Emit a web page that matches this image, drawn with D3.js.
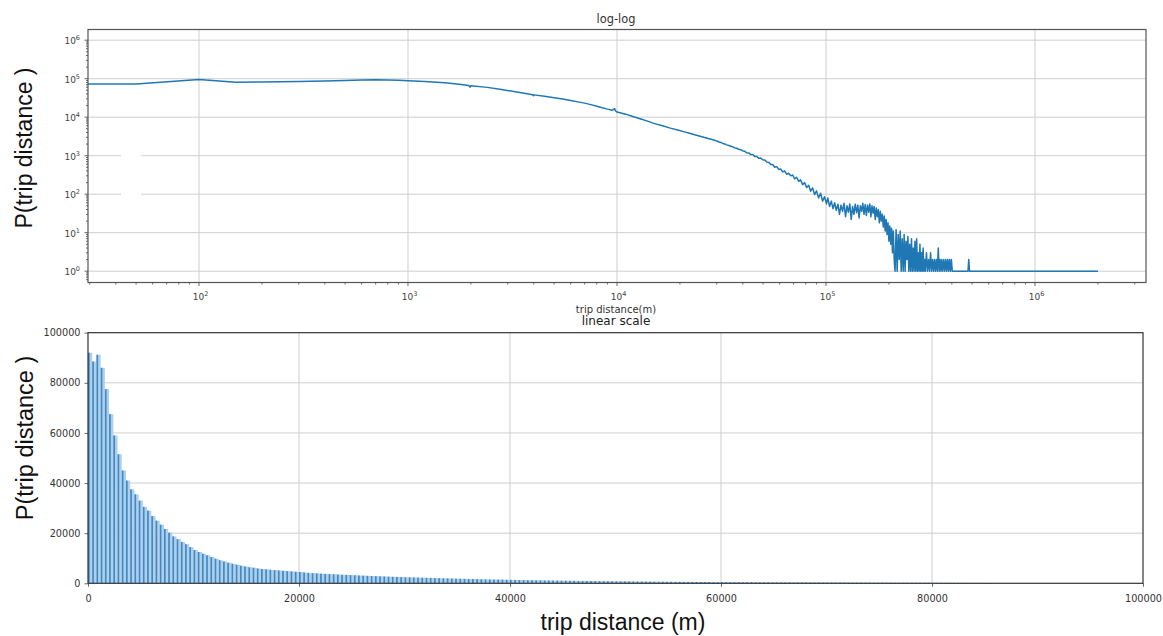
<!DOCTYPE html>
<html>
<head>
<meta charset="utf-8">
<script src="https://cdn.jsdelivr.net/npm/d3@7"></script>
<style>
  html, body { margin: 0; padding: 0; background: #fff; }
  svg { display: block; }
</style>
</head>
<body>
<svg id="chart" width="1163" height="636"></svg>
<script>
// ---------------- DATA ----------------
// log-log panel: trip distance (m) and count per distance bin
const logDist = [
  0, 50, 100, 150, 200, 300, 400, 500, 600, 700, 800, 900, 1000, 1200, 1500, 1800, 1950, 1980, 2000,
  2400, 2800, 3200, 3600, 3950, 3980, 4000, 4500, 5000, 5500, 6000, 6500, 7000, 7500, 8000, 8500,
  9000, 9500, 9750, 9800, 10000, 11000, 12000, 13000, 14000, 15000, 16500, 18000, 19500, 21000,
  22500, 24000, 25500, 27000, 28500,
  30000, 30700, 31400, 32100, 32800, 33500, 34300, 35000, 35800, 36600, 37400, 38200, 39100, 40000,
  40900, 41800, 42700, 43600, 44600, 45600, 46600, 47600, 48700, 49800, 50900, 52000, 53200, 54400,
  55600, 56800, 58100, 59400, 60700, 62000, 63400, 64800, 66300, 67800, 69300, 70800, 72400, 74000,
  75600, 77300, 79000, 80800, 82600, 84400, 86300, 88200, 90100, 92100, 94200, 96300, 98400, 100600,
  102000, 104000, 106000, 108000, 110000, 112000, 114000, 116000, 118000, 120000, 122000, 124000,
  126000, 128000, 130000, 132000, 134000, 136000, 138000, 140000, 142000, 144000, 146000, 148000,
  150000, 152000, 154000, 156000, 158000, 160000, 162000, 164000, 166000, 168000, 170000, 172000,
  174000, 176000, 178000, 180000, 182000, 184000, 186000, 188000, 190000, 192000, 194000, 196000,
  198000, 200000, 202000, 204000, 206000, 208000, 210000, 212000,
  214000, 216500, 219000, 221500, 224000, 226500, 229000, 231500, 234000, 236500, 239000, 241500,
  244000, 246500, 249000, 251500, 254000, 256500, 259000, 261500, 264000, 266500, 269000, 271500,
  274000, 276500, 279000, 281500, 284000, 286500, 289000, 291500, 294000, 296500, 299000,
  302500, 306000, 309500, 313000, 316500, 320000, 323500, 327000, 330500, 334000, 337500, 341000,
  344500, 348000, 351500, 355000, 358500, 362000, 366000, 370000, 374000, 378000, 382000, 386000,
  390000, 394000, 398000, 402000, 440000, 478000, 482000, 486000, 2000000
];
const logCount = [
  72000, 72500, 95000, 81000, 82500, 85000, 87500, 90000, 92000, 93500, 93000, 91000, 88500, 85000,
  79000, 71000, 66500, 60500, 66000,
  59500, 52500, 46500, 42000, 38500, 36000, 38000, 35000, 32000, 29500, 27000, 25000, 23200, 21200,
  19300, 17500, 16200, 15200, 16600, 14900, 13600, 12000, 10300, 9000, 7900, 6900, 6000, 5200, 4650,
  4150, 3750, 3400, 3100, 2850, 2620,
  2420, 2270, 2210, 2080, 2020, 1910, 1850, 1750, 1700, 1590, 1560, 1460, 1430, 1330,
  1300, 1190, 1180, 1070, 1070, 960, 960, 860, 870, 780, 770, 690, 670, 590,
  590, 500, 520, 440, 450, 380, 400, 330, 350, 300, 315, 250, 275, 215,
  235, 175, 200, 148, 170, 120, 145, 98, 122, 80, 106, 66, 86, 56,
  80, 48, 66, 42, 60, 38, 55, 30, 52, 36, 58, 26,
  50, 34, 56, 22, 48, 30, 55, 33, 52, 24, 50, 36,
  58, 30, 54, 28, 52, 34, 56, 26, 50, 32, 48, 22,
  44, 26, 40, 18, 36, 20, 30, 14, 27, 11, 22, 9,
  18, 6, 15, 5, 13, 3, 11, 2,
  1, 12, 1, 9, 2, 11, 1, 7, 1, 9, 1, 6,
  2, 8, 1, 5, 1, 7, 1, 4, 1, 6, 1, 7,
  1, 3, 1, 5, 1, 3, 1, 4, 1, 2, 1,
  3, 1, 2, 1, 3, 1, 2, 1, 2, 1, 2, 1,
  4, 1, 2, 1, 2, 1, 2, 1, 2, 1, 2, 1,
  2, 1, 2, 1, 1, 1, 2, 1, 1
];
const logTicksX = [1e2, 1e3, 1e4, 1e5, 1e6];
const logTicksY = [1e0, 1e1, 1e2, 1e3, 1e4, 1e5, 1e6];

// linear panel: count per distance bin (bin width in metres)
const binWidth = 400;
const linCount = [
  92000, 88500, 91200, 86000, 77500, 67500, 59000, 51500, 45000, 41000, 37500, 35500, 33000,
  30500, 29000, 26800, 25000, 23400, 21700, 20200, 18700, 17600, 16500, 15600, 14400, 13300,
  12500, 11800, 11200, 10500, 9800, 9200, 8700, 8200, 7800, 7400, 7000, 6700, 6400, 6200, 5900,
  5700, 5550, 5400, 5250, 5100, 5000, 4850, 4750, 4600, 4500,
  4300, 4150, 4050, 3950, 3850, 3750, 3650, 3600, 3500, 3400, 3350, 3250, 3200, 3100, 3050,
  2980, 2900, 2850, 2780, 2720, 2650, 2600, 2550, 2480, 2420,
  2380, 2330, 2280, 2230, 2180, 2130, 2080, 2030, 1980, 1940, 1890, 1850, 1810, 1770, 1720,
  1690, 1650, 1610, 1570, 1540, 1500, 1470, 1430, 1400, 1360,
  1330, 1300, 1270, 1250, 1220, 1190, 1170, 1140, 1120, 1090, 1070, 1050, 1020, 1000, 980,
  960, 940, 920, 900, 880, 860, 840, 820, 800, 780,
  765, 750, 735, 720, 705, 690, 675, 660, 645, 630, 615, 600, 590, 575, 565, 550, 540, 525,
  515, 505, 495, 485, 475, 460, 450,
  442, 434, 426, 418, 410, 402, 395, 388, 381, 374, 367, 360, 354, 348, 342, 336, 330, 324,
  318, 312, 306, 300, 295, 290, 285,
  280, 275, 270, 265, 260, 255, 250, 245, 240, 235, 230, 225, 220, 215, 210, 205, 200, 196,
  192, 188, 184, 180, 176, 172, 168,
  165, 162, 158, 155, 152, 148, 145, 142, 138, 135, 132, 128, 125
];
const linTicksX = [0, 20000, 40000, 60000, 80000, 100000];
const linTicksY = [0, 20000, 40000, 60000, 80000, 100000];

// ---------------- DRAW ----------------
const svg = d3.select("#chart");
const tickFont = "'DejaVu Sans', sans-serif";
const labelFont = "'Liberation Sans', Arial, sans-serif";
const gridColor = "#cfcfcf";
const lineColor = "#1f77b4";

// ===== Top panel (log-log) =====
const T = {left: 88, right: 1146, top: 29.5, bottom: 282.5};
const xLog = d3.scaleLog().domain([Math.pow(10, 1.4689), Math.pow(10, 6.5311)]).range([T.left, T.right]);
const yLog = d3.scaleLog().domain([Math.pow(10, -0.294), Math.pow(10, 6.278)]).range([T.bottom, T.top]);

svg.append("clipPath").attr("id", "clipTop").append("rect")
  .attr("x", T.left).attr("y", T.top).attr("width", T.right - T.left).attr("height", T.bottom - T.top);

const gTop = svg.append("g");
gTop.selectAll("line.gx").data(logTicksX).join("line")
  .attr("x1", d => xLog(d)).attr("x2", d => xLog(d))
  .attr("y1", T.top).attr("y2", T.bottom)
  .attr("stroke", gridColor).attr("stroke-width", 1);
gTop.selectAll("line.gy").data(logTicksY).join("line")
  .attr("x1", T.left).attr("x2", T.right)
  .attr("y1", d => yLog(d)).attr("y2", d => yLog(d))
  .attr("stroke", gridColor).attr("stroke-width", 1);
// small blank patch present in the reference's gridlines
gTop.append("rect").attr("x", 121).attr("y", yLog(1e3) - 2).attr("width", 20)
  .attr("height", yLog(1e2) - yLog(1e3) + 4).attr("fill", "#fff");

const pts = logDist.map((d, i) => [d, logCount[i]]);
const line = d3.line()
  .x(d => xLog(Math.max(d[0], 1)))
  .y(d => yLog(d[1]));
gTop.append("path").datum(pts)
  .attr("clip-path", "url(#clipTop)")
  .attr("d", line).attr("fill", "none")
  .attr("stroke", lineColor).attr("stroke-width", 1.5).attr("stroke-linejoin", "round");

gTop.append("rect").attr("x", T.left).attr("y", T.top)
  .attr("width", T.right - T.left).attr("height", T.bottom - T.top)
  .attr("fill", "none").attr("stroke", "#555").attr("stroke-width", 1.2);

const minorX = [], minorY = [];
for (let e = 1; e <= 6; e++) for (let m = 2; m <= 9; m++) {
  const v = m * Math.pow(10, e);
  if (v > xLog.domain()[0] && v < xLog.domain()[1]) minorX.push(v);
}
for (let e = -1; e <= 6; e++) for (let m = 2; m <= 9; m++) {
  const v = m * Math.pow(10, e);
  if (v > yLog.domain()[0] && v < yLog.domain()[1]) minorY.push(v);
}
gTop.selectAll("line.mx").data(minorX).join("line")
  .attr("x1", d => xLog(d)).attr("x2", d => xLog(d))
  .attr("y1", T.bottom).attr("y2", T.bottom + 2).attr("stroke", "#444").attr("stroke-width", 0.8);
gTop.selectAll("line.my").data(minorY).join("line")
  .attr("x1", T.left - 2).attr("x2", T.left)
  .attr("y1", d => yLog(d)).attr("y2", d => yLog(d)).attr("stroke", "#444").attr("stroke-width", 0.8);
gTop.selectAll("line.tx").data(logTicksX).join("line")
  .attr("x1", d => xLog(d)).attr("x2", d => xLog(d))
  .attr("y1", T.bottom).attr("y2", T.bottom + 3.5).attr("stroke", "#444").attr("stroke-width", 0.8);
gTop.selectAll("line.ty").data(logTicksY).join("line")
  .attr("x1", T.left - 3.5).attr("x2", T.left)
  .attr("y1", d => yLog(d)).attr("y2", d => yLog(d)).attr("stroke", "#444").attr("stroke-width", 0.8);

function powLabel(sel) {
  sel.each(function(d) {
    const e = Math.round(Math.log10(d));
    const t = d3.select(this);
    t.append("tspan").text("10");
    t.append("tspan").attr("dy", -4).attr("font-size", 6.5).text(String(e));
  });
}
gTop.selectAll("text.lx").data(logTicksX).join("text")
  .attr("x", d => xLog(d) + 1.5).attr("y", 300)
  .attr("text-anchor", "middle").attr("font-family", tickFont).attr("font-size", 9)
  .attr("fill", "#444").call(powLabel);
gTop.selectAll("text.ly").data(logTicksY).join("text")
  .attr("x", 80).attr("y", d => yLog(d) + 4)
  .attr("text-anchor", "end").attr("font-family", tickFont).attr("font-size", 9)
  .attr("fill", "#444").call(powLabel);

svg.append("text").attr("x", 616).attr("y", 23).attr("text-anchor", "middle")
  .attr("font-family", tickFont).attr("font-size", 11.4).attr("fill", "#333").text("log-log");
svg.append("text").attr("x", 616).attr("y", 312.5).attr("text-anchor", "middle")
  .attr("font-family", tickFont).attr("font-size", 10).attr("fill", "#333").text("trip distance(m)");
svg.append("text").attr("transform", "translate(32,148) rotate(-90)").attr("text-anchor", "middle")
  .attr("font-family", labelFont).attr("font-size", 23).attr("fill", "#111").text("P(trip distance )");

// ===== Bottom panel (linear) =====
const B = {left: 88, right: 1143, top: 332.7, bottom: 583.3};
const xLin = d3.scaleLinear().domain([0, 100000]).range([B.left, B.right]);
const yLin = d3.scaleLinear().domain([0, 100000]).range([B.bottom, B.top]);

const gBot = svg.append("g");
gBot.selectAll("line.gx").data(linTicksX.slice(1, -1)).join("line")
  .attr("x1", d => xLin(d)).attr("x2", d => xLin(d))
  .attr("y1", B.top).attr("y2", B.bottom).attr("stroke", gridColor).attr("stroke-width", 1);
gBot.selectAll("line.gy").data(linTicksY.slice(1, -1)).join("line")
  .attr("x1", B.left).attr("x2", B.right)
  .attr("y1", d => yLin(d)).attr("y2", d => yLin(d)).attr("stroke", gridColor).attr("stroke-width", 1);

const bars = linCount.map((v, i) => ({x0: i * binWidth, v}));
gBot.selectAll("rect.bl").data(bars).join("rect")
  .attr("x", d => xLin(d.x0)).attr("width", d => xLin(d.x0 + binWidth) - xLin(d.x0))
  .attr("y", d => yLin(d.v)).attr("height", d => yLin(0) - yLin(d.v))
  .attr("fill", "#afd0ea");
gBot.selectAll("rect.bd").data(bars).join("rect")
  .attr("x", d => xLin(d.x0)).attr("width", d => xLin(d.x0 + binWidth * 0.4) - xLin(d.x0))
  .attr("y", d => yLin(d.v)).attr("height", d => yLin(0) - yLin(d.v))
  .attr("fill", "#4189c5");

gBot.append("rect").attr("x", B.left).attr("y", B.top)
  .attr("width", B.right - B.left).attr("height", B.bottom - B.top)
  .attr("fill", "none").attr("stroke", "#333").attr("stroke-width", 1.2);

const axB = gBot.append("g").attr("transform", `translate(0,${B.bottom})`)
  .call(d3.axisBottom(xLin).tickValues(linTicksX).tickSize(3.5).tickPadding(5).tickFormat(d3.format("d")));
const axL = gBot.append("g").attr("transform", `translate(${B.left},0)`)
  .call(d3.axisLeft(yLin).tickValues(linTicksY).tickSize(3.5).tickPadding(4).tickFormat(d3.format("d")));
[axB, axL].forEach(a => {
  a.select(".domain").remove();
  a.selectAll("line").attr("stroke", "#444").attr("stroke-width", 0.8);
  a.selectAll("text").attr("font-family", tickFont).attr("font-size", 9.7).attr("fill", "#333");
});
axB.selectAll("text").attr("dy", "1.05em");

svg.append("text").attr("x", 616).attr("y", 325).attr("text-anchor", "middle")
  .attr("font-family", tickFont).attr("font-size", 12).attr("fill", "#222").text("linear scale");
svg.append("text").attr("transform", "translate(33,438) rotate(-90)").attr("text-anchor", "middle")
  .attr("font-family", labelFont).attr("font-size", 23.5).attr("fill", "#111").text("P(trip distance )");
svg.append("text").attr("x", 623).attr("y", 630).attr("text-anchor", "middle")
  .attr("font-family", labelFont).attr("font-size", 23).attr("fill", "#111").text("trip distance (m)");
</script>
</body>
</html>
